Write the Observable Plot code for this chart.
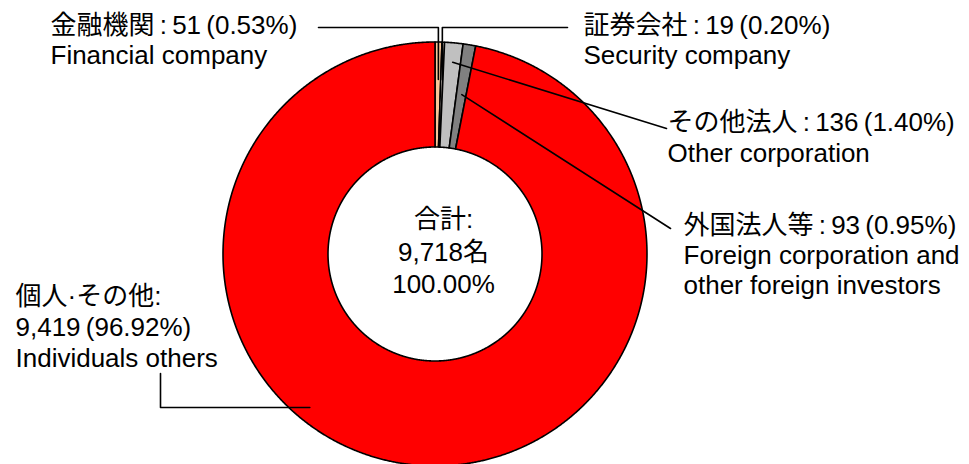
<!DOCTYPE html>
<html>
<head>
<meta charset="utf-8">
<script src="https://cdn.jsdelivr.net/npm/d3@7"></script>
<script src="https://cdn.jsdelivr.net/npm/@observablehq/plot@0.6"></script>
<style>
  html, body { margin: 0; padding: 0; background: #fff; }
</style>
</head>
<body>
<div id="chart"></div>
<script>
// ---- data ----
const categoriesJa = ["金融機関", "証券会社", "その他法人", "外国法人等", "個人·その他"];
const categoriesEn = ["Financial company", "Security company", "Other corporation",
  "Foreign corporation and\nother foreign investors", "Individuals others"];
const counts = [51, 19, 136, 93, 9419];
const percentLabels = ["0.53%", "0.20%", "1.40%", "0.95%", "96.92%"];
const totalLabel = "合計";
const totalCount = 9718;
const totalUnit = "名";
const totalPercent = "100.00%";

// ---- styles ----
const sliceColors = ["#FAC598", "#FFF6EE", "#C0C0C0", "#808080", "#FF0000"];
const FONT = "'Liberation Sans', Arial, 'Noto Sans CJK JP', sans-serif";
const FS = 26;

// ---- layout ----
const W = 969, H = 464;
const cx = 435, cy = 254, rOuter = 212, rInner = 107;
const labelLayout = [
  {x: 50,  baselines: [33, 63], splitName: false},
  {x: 583, baselines: [33, 63], splitName: false},
  {x: 667, baselines: [130, 161], splitName: false},
  {x: 683, baselines: [233, 263, 293], splitName: false},
  {x: 15,  baselines: [304, 335, 366], splitName: true}
];
const totalLayout = {x: 443, baselines: [227, 260, 292]};
const leaderLayout = [
  {kind: "elbowDown", from: [318, 27], r: 175},
  {kind: "elbowDown", from: [567, 27], r: 175},
  {kind: "straight",  from: [666, 128], r: 193},
  {kind: "straight",  from: [670, 228], r: 162},
  {kind: "elbowAcross", from: [160, 373], elbowY: 407, r: 198}
];

// ---- derived geometry ----
const total = d3.sum(counts);
const fmt = d3.format(",");
const S = "\u2009";
let acc = 0;
const slices = counts.map((c, i) => {
  const a0 = acc / total * 2 * Math.PI;
  acc += c;
  const a1 = acc / total * 2 * Math.PI;
  return {name: categoriesJa[i], a0, a1, mid: (a0 + a1) / 2};
});
const px = (r, a) => cx + r * Math.sin(a);
const py = (r, a) => cy - r * Math.cos(a);

const ringPts = [];
for (const s of slices) {
  const n = Math.max(2, Math.ceil((s.a1 - s.a0) / (Math.PI / 720)));
  for (let k = 0; k <= n; k++) {
    const a = s.a0 + (s.a1 - s.a0) * k / n;
    ringPts.push({name: s.name, xi: px(rInner, a), yi: py(rInner, a), xo: px(rOuter, a), yo: py(rOuter, a)});
  }
}

const leaderPts = [];
leaderLayout.forEach((L, i) => {
  const s = slices[i];
  const id = "L" + i;
  if (L.kind === "elbowDown") {
    const ex = px(L.r, s.mid), ey = py(L.r, s.mid);
    leaderPts.push({id, x: L.from[0], y: L.from[1]}, {id, x: ex, y: L.from[1]}, {id, x: ex, y: ey});
  } else if (L.kind === "straight") {
    leaderPts.push({id, x: L.from[0], y: L.from[1]}, {id, x: px(L.r, s.mid), y: py(L.r, s.mid)});
  } else {
    const dy = L.elbowY - cy;
    const ex = cx - Math.sqrt(L.r * L.r - dy * dy);
    leaderPts.push({id, x: L.from[0], y: L.from[1]}, {id, x: L.from[0], y: L.elbowY}, {id, x: ex, y: L.elbowY});
  }
});

const textLines = [];
categoriesJa.forEach((ja, i) => {
  const L = labelLayout[i];
  const value = fmt(counts[i]) + S + "(" + percentLabels[i] + ")";
  let lines;
  if (L.splitName) lines = [ja + ":", value];
  else lines = [ja + S + ":" + S + value];
  lines = lines.concat(categoriesEn[i].split("\n"));
  lines.forEach((t, j) => textLines.push({x: L.x, y: L.baselines[j], text: t, anchor: "start"}));
});
[totalLabel + ":", fmt(totalCount) + totalUnit, totalPercent].forEach((t, j) =>
  textLines.push({x: totalLayout.x, y: totalLayout.baselines[j], text: t, anchor: "middle"}));

const chart = Plot.plot({
  width: W, height: H, margin: 0,
  style: {fontFamily: FONT, background: "#fff", overflow: "visible"},
  x: {type: "linear", domain: [0, W], range: [0, W], axis: null},
  y: {type: "linear", domain: [0, H], range: [0, H], axis: null},
  color: {domain: categoriesJa, range: sliceColors},
  marks: [
    Plot.area(ringPts, {x1: "xi", y1: "yi", x2: "xo", y2: "yo", z: "name", fill: "name",
      stroke: "#000", strokeWidth: 1.6, strokeLinejoin: "round", curve: "linear"}),
    Plot.line(leaderPts, {x: "x", y: "y", z: "id", stroke: "#000", strokeWidth: 1.6, curve: "linear"}),
    Plot.text(textLines.filter(d => d.anchor === "start"), {x: "x", y: "y", text: "text",
      textAnchor: "start", lineAnchor: "bottom", fontSize: FS, fontFamily: FONT, fill: "#000"}),
    Plot.text(textLines.filter(d => d.anchor === "middle"), {x: "x", y: "y", text: "text",
      textAnchor: "middle", lineAnchor: "bottom", fontSize: FS, fontFamily: FONT, fill: "#000"})
  ]
});
document.getElementById("chart").appendChild(chart);
</script>
</body>
</html>
